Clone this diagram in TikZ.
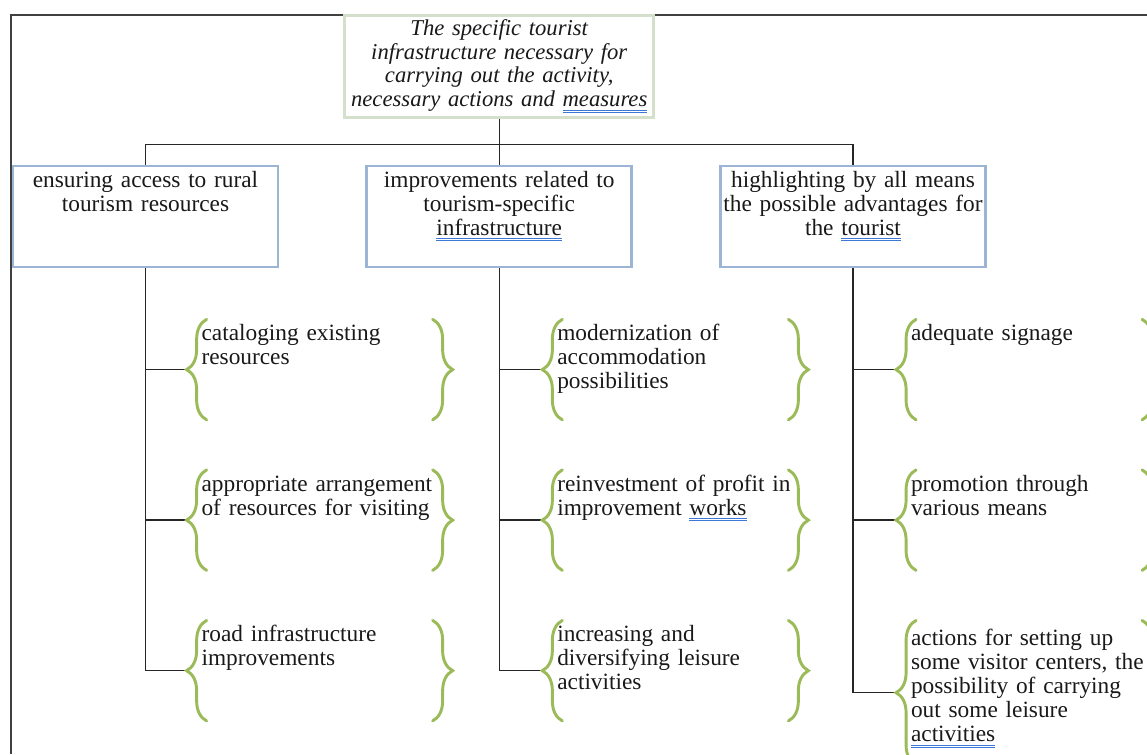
\documentclass[tikz,border=0pt]{standalone}
\usepackage{fontspec}
\setmainfont{Liberation Serif}
\usetikzlibrary{positioning, decorations.pathreplacing}
\definecolor{topgreen}{HTML}{D4E0CC}
\definecolor{boxblue}{HTML}{9DB5D5}
\definecolor{bracegreen}{HTML}{9BBB59}
\definecolor{markblue}{HTML}{3C78D8}
\definecolor{framegray}{HTML}{404040}
\newcommand{\spellmark}[1]{\leavevmode\setbox0=\hbox{#1}\rlap{\color{markblue}\rule[-3.2pt]{\wd0}{0.7pt}\kern-\wd0\rule[-4.6pt]{\wd0}{0.7pt}}#1}
\newcommand{\nohyph}{\hyphenpenalty=10000\relax}

\begin{document}
\begin{tikzpicture}[
  x=0.75pt, y=-0.75pt,
  every node/.style={font=\fontsize{17.5}{18}\selectfont\nohyph, text=black!90},
  headbox/.style={rectangle, draw=topgreen, line width=2.2pt, fill=white, text width=232pt, align=center, minimum height=76.5pt, inner xsep=0pt, inner ysep=2pt, font=\fontsize{17}{17.8}\selectfont\itshape\nohyph},
  catbox/.style={rectangle, draw=boxblue, line width=2pt, fill=white, text width=198pt, align=center, inner xsep=0.4pt, inner ysep=3pt, text height=12.75pt, text depth=57pt},
  item/.style={rectangle, text width=182pt, align=left, inner xsep=11pt, inner ysep=3pt, text height=12.75pt, text depth=56.25pt},
  lbrace/.style={draw=bracegreen, line width=2.2pt, line cap=round, decorate, decoration={brace, amplitude=15pt}},
  conn/.style={draw=black!85, line width=1.1pt}
]
\useasboundingbox (0,0) rectangle (1147,754);
\draw[framegray, line width=1.5pt] (11,754) -- (11,15) -- (1147,15);

\node[catbox] (access) at (145.5,216.5) {ensuring access to rural\\tourism resources};
\node[catbox, right=64.5pt of access] (infra) {improvements related to\\tourism-specific\\\spellmark{infrastructure}};
\node[catbox, right=64.5pt of infra] (advant) {highlighting by all means\\the possible advantages for\\the \spellmark{tourist}};

\node[headbox, above=34.5pt of infra] (head) {The specific tourist\\infrastructure necessary for\\carrying out the activity,\\necessary actions and \spellmark{measures}};

% measures under each heading
\node[item, below right=38.25pt and 131.25pt of access.south west] (access1) {cataloging existing\\resources};
\node[item, below=37.5pt of access1] (access2) {appropriate arrangement\\of resources for visiting};
\node[item, below=37.5pt of access2] (access3) {road infrastructure\\improvements};

\node[item, below right=38.25pt and 132.75pt of infra.south west] (infra1) {modernization of\\accommodation\\possibilities};
\node[item, below=37.5pt of infra1] (infra2) {reinvestment of profit in\\improvement \spellmark{works}};
\node[item, below=37.5pt of infra2] (infra3) {increasing and\\diversifying leisure\\activities};

\node[item, below right=38.25pt and 132.75pt of advant.south west] (advant1) {adequate signage};
\node[item, below=37.5pt of advant1] (advant2) {promotion through\\various means};
\node[item, text height=15.75pt, text depth=86.25pt, below=37.5pt of advant2] (advant3) {actions for setting up\\some visitor centers, the\\possibility of carrying\\out some leisure\\\spellmark{activities}};

\coordinate (bus) at ([yshift=15pt]infra.north);
\draw[conn] (head.south) -- (infra.north);
\draw[conn] (access.north) |- (bus) -| (advant.north);

\foreach \g in {access, infra, advant} {
  \foreach \i in {1,2,3} {
    \draw[conn] (\g.south) |- (\g\i.west);
    \draw[lbrace] ([xshift=15pt]\g\i.south west) -- ([xshift=15pt]\g\i.north west);
    \draw[lbrace] ([xshift=184.5pt]\g\i.north west) -- ([xshift=184.5pt]\g\i.south west);
  }
}
\end{tikzpicture}
\end{document}
